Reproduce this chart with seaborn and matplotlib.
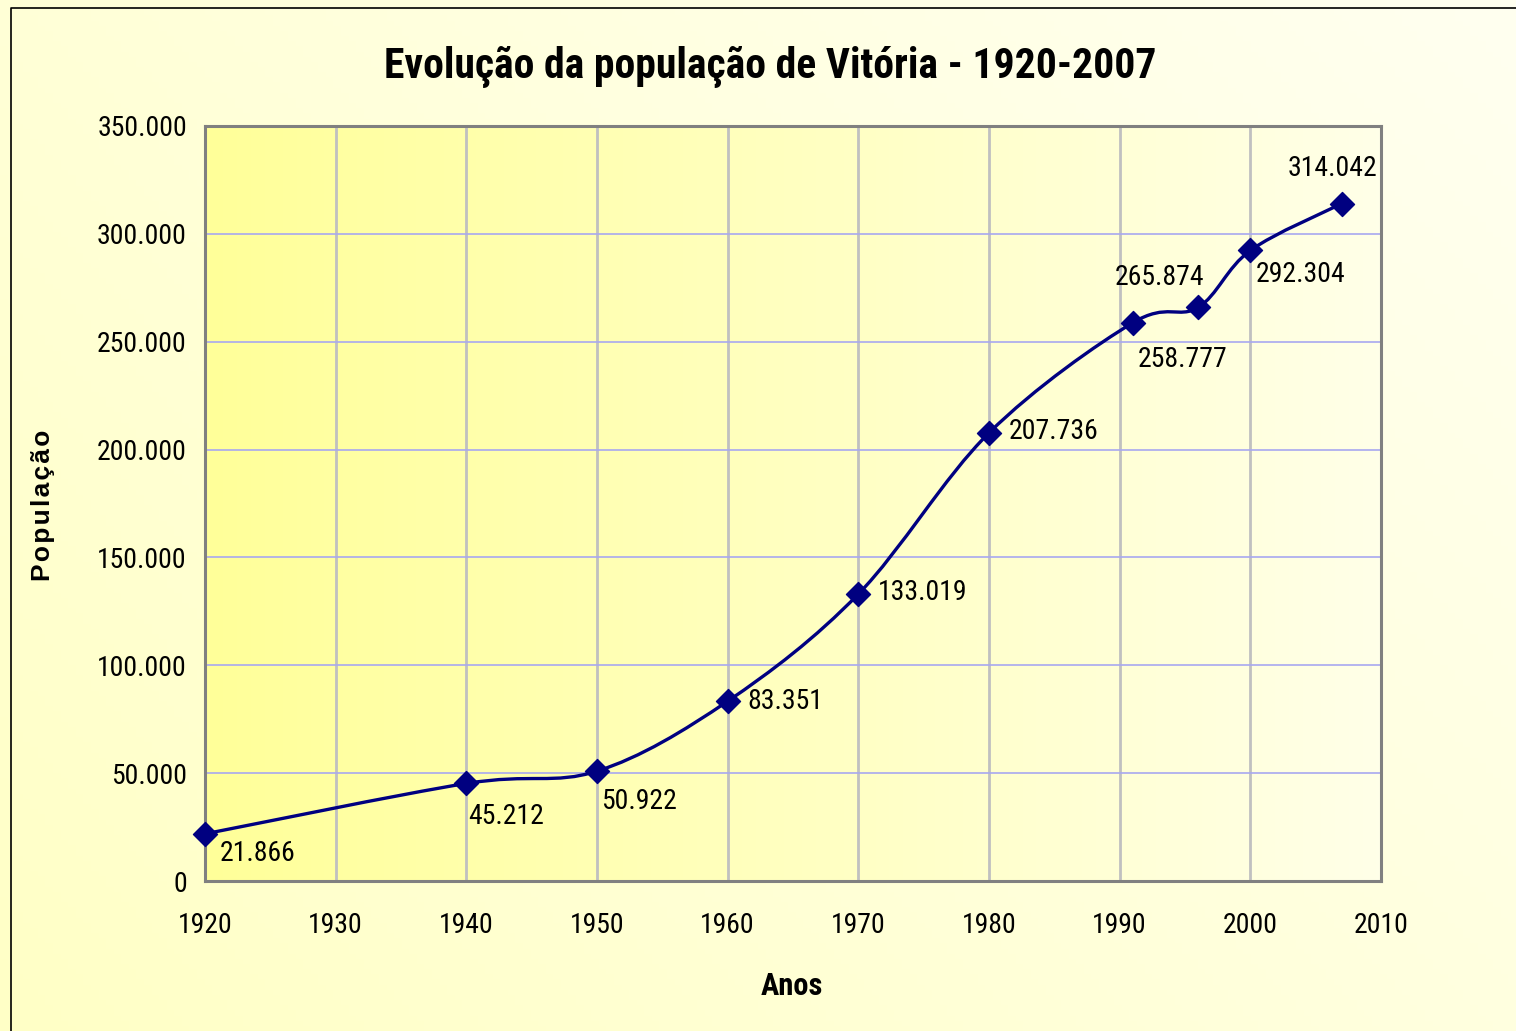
import numpy as np
import pandas as pd
import seaborn as sns
import matplotlib
matplotlib.use("Agg")
from matplotlib import pyplot as plt
from matplotlib.path import Path
from matplotlib.patches import PathPatch
from matplotlib.colors import LinearSegmentedColormap
from matplotlib.ticker import FuncFormatter
from matplotlib import font_manager

# dados (censos / estimativas)
anos = [1920, 1940, 1950, 1960, 1970, 1980, 1991, 1996, 2000, 2007]
populacao = [21866, 45212, 50922, 83351, 133019, 207736, 258777, 265874, 292304, 314042]
rotulos = ["21.866", "45.212", "50.922", "83.351", "133.019", "207.736",
           "258.777", "265.874", "292.304", "314.042"]
# deslocamento dos rotulos (pixels)
desloc = [(15, -20), (2, -33), (4, -30), (20, 0), (20, 2), (20, 1),
          (5, -37), (-83, 30), (5, -24), (-54, 35)]

df = pd.DataFrame({"Anos": anos, "Populacao": populacao})

sns.set_style("white")
nomes = {f.name for f in font_manager.fontManager.ttflist}
narrow = [n for n in ["Arial Narrow", "Liberation Sans Narrow", "Roboto Condensed"] if n in nomes]
narrow = narrow + ["Liberation Sans", "DejaVu Sans"]
plt.rcParams["font.family"] = narrow
plt.rcParams["text.color"] = "black"
plt.rcParams["xtick.color"] = "black"
plt.rcParams["ytick.color"] = "black"

fig = plt.figure(figsize=(15.16, 10.31), dpi=100)

# fundo da figura com degrade
bg = fig.add_axes([0, 0, 1, 1], zorder=-10)
gx, gy = np.meshgrid(np.linspace(0, 1, 200), np.linspace(0, 1, 200))
cm_bg = LinearSegmentedColormap.from_list("bg", ["#FFFFC6", "#FFFFF0"])
bg.imshow((gx * 0.6 + (1 - gy) * 0.4), cmap=cm_bg, aspect="auto",
          extent=[0, 1, 0, 1], origin="upper")
bg.set_axis_off()
bg.plot([11 / 1516, 11 / 1516, 1.0], [0, 1 - 8 / 1031, 1 - 8 / 1031],
        color="black", lw=1.2, transform=bg.transAxes, clip_on=False)

ax = fig.add_axes([205 / 1516, 1 - 881 / 1031, 1176 / 1516, 755 / 1031])
cm_plot = LinearSegmentedColormap.from_list("pl", ["#FFFF99", "#FFFFE8"])
ax.imshow(np.linspace(0, 1, 256).reshape(1, -1), cmap=cm_plot, aspect="auto",
          extent=[0, 1, 0, 1], transform=ax.transAxes, zorder=0)

ax.set_xlim(1920, 2010)
ax.set_ylim(0, 350000)
ax.set_xticks(range(1920, 2011, 10))
ax.set_yticks(range(0, 350001, 50000))
ax.yaxis.set_major_formatter(FuncFormatter(lambda v, p: f"{int(v):,}".replace(",", ".")))

for x in range(1930, 2010, 10):
    ax.axvline(x, color="#C0C0C0", lw=2, zorder=1)
for y in range(50000, 350000, 50000):
    ax.axhline(y, color="#A8A8F0", lw=1.2, zorder=1)

# curva suavizada (Catmull-Rom em Bezier)
xs = np.array(anos, dtype=float)
ys = np.array(populacao, dtype=float)
verts = [(xs[0], ys[0])]
codes = [Path.MOVETO]
n = len(xs)
for i in range(n - 1):
    p0 = (xs[max(i - 1, 0)], ys[max(i - 1, 0)])
    p1 = (xs[i], ys[i])
    p2 = (xs[i + 1], ys[i + 1])
    p3 = (xs[min(i + 2, n - 1)], ys[min(i + 2, n - 1)])
    c1 = (p1[0] + (p2[0] - p0[0]) / 6, p1[1] + (p2[1] - p0[1]) / 6)
    c2 = (p2[0] - (p3[0] - p1[0]) / 6, p2[1] - (p3[1] - p1[1]) / 6)
    verts += [c1, c2, p2]
    codes += [Path.CURVE4] * 3
ax.add_patch(PathPatch(Path(verts, codes), fc="none", ec="#000080", lw=2.4, zorder=3))

sns.scatterplot(data=df, x="Anos", y="Populacao", marker="D", s=150,
                color="#000080", edgecolor="#000080", ax=ax, zorder=4, clip_on=False)

for x, y, t, d in zip(anos, populacao, rotulos, desloc):
    ax.annotate(t, (x, y), xytext=d, textcoords="offset pixels", fontsize=20,
                ha="left", va="center", color="black", zorder=5)

for s in ax.spines.values():
    s.set_visible(True)
    s.set_color("#808080")
    s.set_linewidth(2.2)

ax.tick_params(axis="x", labelsize=20, pad=22, length=0)
ax.tick_params(axis="y", labelsize=20, pad=13, length=0)
ax.set_xlabel("")
ax.set_ylabel("")

fig.text(0.508, 1 - 67 / 1031, "Evolução da população de Vitória - 1920-2007",
         ha="center", va="center", fontsize=30, fontweight="bold")
fig.text(792 / 1516, 1 - 986 / 1031, "Anos", ha="center", va="center",
         fontsize=22, fontweight="bold")
fig.text(43 / 1516, 1 - 505 / 1031, "\u200a".join("População"), ha="center", va="center",
         rotation=90, fontsize=19, fontweight="bold", family=["Liberation Sans", "DejaVu Sans"])

fig.savefig("out.png", dpi=100)
